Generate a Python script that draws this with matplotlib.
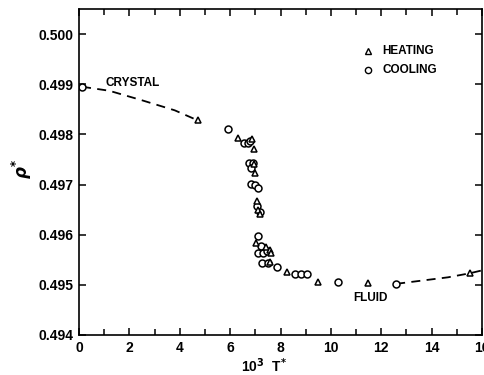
import matplotlib
matplotlib.use('Agg')
import matplotlib.pyplot as plt
from matplotlib.ticker import MultipleLocator

# heating runs (triangles)
heat_x = [4.71, 6.31, 6.85, 6.95, 6.95, 6.97, 7.05, 7.10, 7.20, 7.01, 7.41, 7.58, 7.61, 7.58, 8.27, 9.47, 11.46, 15.51]
heat_y = [0.49828, 0.49793, 0.49790, 0.49770, 0.49740, 0.49722, 0.49668, 0.49650, 0.49642, 0.49584,
          0.49576, 0.49569, 0.49563, 0.49546, 0.49526, 0.49506, 0.49504, 0.49523]

# cooling runs (circles)
cool_x = [0.12, 5.91, 6.55, 6.70, 6.80, 6.75, 6.92, 6.84, 6.84, 6.97, 7.10, 7.05, 7.20, 7.10, 7.21,
          7.10, 7.32, 7.48, 7.28, 7.50, 7.85, 8.57, 8.80, 9.04, 10.27, 12.59]
cool_y = [0.49895, 0.49810, 0.49783, 0.49783, 0.49786, 0.49742, 0.49743, 0.49732, 0.49702, 0.49700,
          0.49694, 0.49657, 0.49645, 0.49597, 0.49577, 0.49563, 0.49563, 0.49567, 0.49544, 0.49543,
          0.49536, 0.49521, 0.49521, 0.49521, 0.49506, 0.49502]

# dashed guide curves
crystal_x = [0.12, 1.2, 2.5, 3.8, 4.71]
crystal_y = [0.49895, 0.49887, 0.49868, 0.49848, 0.49828]
fluid_x = [12.59, 14.65, 15.51, 16.1]
fluid_y = [0.49502, 0.49515, 0.49523, 0.49530]

x_ticks = [0, 2, 4, 6, 8, 10, 12, 14, 16]
y_ticks = [0.494, 0.495, 0.496, 0.497, 0.498, 0.499, 0.500]

plt.rcParams['font.family'] = ['Liberation Sans', 'DejaVu Sans']
plt.rcParams['font.weight'] = 'bold'

fig = plt.figure(figsize=(4.84, 3.75), dpi=100)
ax = fig.add_axes([0.1632, 0.1067, 0.8327, 0.8693])

ax.plot(crystal_x, crystal_y, color='black', lw=1.3, ls=(0, (5, 3.5)))
ax.plot(fluid_x, fluid_y, color='black', lw=1.3, ls=(0, (5, 3.5)))
ax.plot(cool_x, cool_y, 'o', mfc='white', mec='black', mew=1.1, ms=5, ls='none')
ax.plot(heat_x, heat_y, '^', mfc='white', mec='black', mew=1.1, ms=5, ls='none')

ax.set_xlim(0, 16)
ax.set_ylim(0.494, 0.5005)
ax.set_xticks(x_ticks)
ax.set_yticks(y_ticks)
ax.set_yticklabels(['%.3f' % v for v in y_ticks])
ax.xaxis.set_minor_locator(MultipleLocator(1))
ax.tick_params(which='both', direction='in', top=True, right=True, width=1.1, labelsize=10, pad=4)
ax.tick_params(which='major', length=5)
ax.tick_params(which='minor', length=4)
for s in ax.spines.values():
    s.set_linewidth(1.2)

ax.text(1.05, 0.49903, 'CRYSTAL', fontsize=8.5, va='center', ha='left')
ax.text(10.9, 0.49474, 'FLUID', fontsize=8.5, va='center', ha='left')

# legend drawn by hand like the original
ax.plot([11.47], [0.49966], '^', mfc='white', mec='black', mew=1.0, ms=4.5)
ax.plot([11.47], [0.49929], 'o', mfc='white', mec='black', mew=1.0, ms=4.5)
ax.text(12.05, 0.49966, 'HEATING', fontsize=8.5, va='center', ha='left')
ax.text(12.05, 0.49929, 'COOLING', fontsize=8.5, va='center', ha='left')

fig.text(0.545, 0.026, r'10$^{\mathbf{3}}$  T$^{\mathbf{*}}$', fontsize=10, ha='center', va='center')
fig.text(0.045, 0.55, r'$\rho^{*}$', fontsize=12, rotation=90, ha='center', va='center')

fig.savefig('out.png', dpi=100)
plt.close(fig)
